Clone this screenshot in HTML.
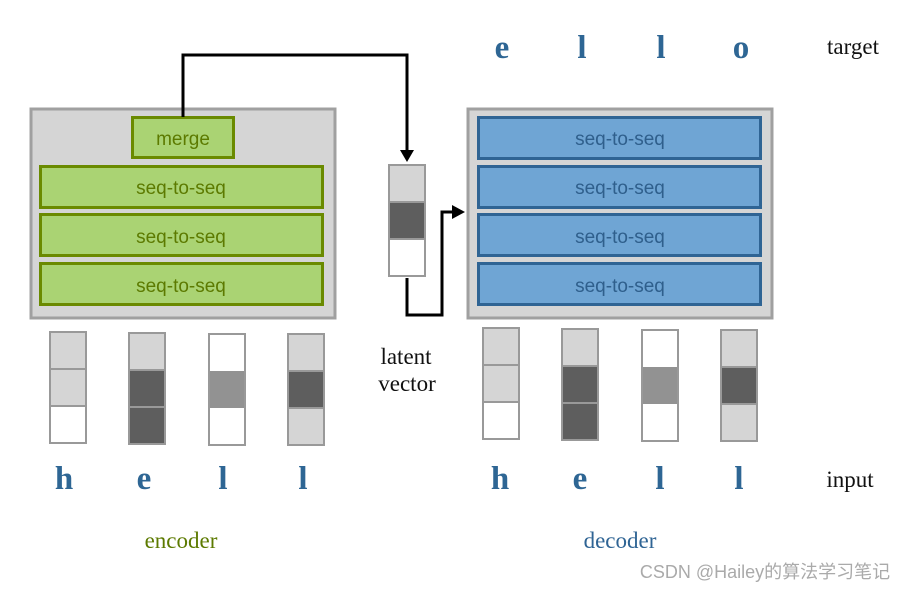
<!DOCTYPE html>
<html><head><meta charset="utf-8"><style>
html,body{margin:0;padding:0;background:#fff;}
svg{display:block}
.ser{font-family:"Liberation Serif",serif}
.big{font-family:"Liberation Serif",serif;font-weight:bold;font-size:33px;fill:#2e6694;text-anchor:middle}
.lab{font-family:"Liberation Sans",sans-serif;font-size:19px;text-anchor:middle}
</style></head><body>
<svg width="913" height="590" viewBox="0 0 913 590" xmlns="http://www.w3.org/2000/svg">
<!-- encoder -->
<rect x="31" y="109" width="304" height="209" fill="#d5d5d5" stroke="#a0a0a0" stroke-width="3"/>
<rect x="132.5" y="117.5" width="101" height="40" fill="#aad373" stroke="#6a8a00" stroke-width="3"/>
<text x="183" y="145" class="lab" fill="#5c7a00">merge</text>
<g fill="#aad373" stroke="#6a8a00" stroke-width="3">
<rect x="40.5" y="166.5" width="282" height="41"/>
<rect x="40.5" y="214.5" width="282" height="41"/>
<rect x="40.5" y="263.5" width="282" height="41"/>
</g>
<g class="lab" fill="#5c7a00">
<text x="181" y="194">seq-to-seq</text><text x="181" y="243">seq-to-seq</text><text x="181" y="292">seq-to-seq</text>
</g>
<!-- decoder -->
<rect x="468" y="109" width="304" height="209" fill="#d5d5d5" stroke="#a0a0a0" stroke-width="3"/>
<g fill="#6fa5d4" stroke="#2f6494" stroke-width="3">
<rect x="478.5" y="117.5" width="282" height="41"/>
<rect x="478.5" y="166.5" width="282" height="41"/>
<rect x="478.5" y="214.5" width="282" height="41"/>
<rect x="478.5" y="263.5" width="282" height="41"/>
</g>
<g class="lab" fill="#2f5f8c">
<text x="620" y="145">seq-to-seq</text><text x="620" y="194">seq-to-seq</text><text x="620" y="243">seq-to-seq</text><text x="620" y="292">seq-to-seq</text>
</g>
<!-- latent -->
<g stroke="#999" stroke-width="2">
<rect x="389" y="165" width="36" height="37" fill="#d5d5d5"/>
<rect x="389" y="202" width="36" height="37" fill="#5e5e5e"/>
<rect x="389" y="239" width="36" height="37" fill="#fff"/>
</g>
<!-- arrows -->
<polyline points="183,117 183,55 407,55 407,152" fill="none" stroke="#000" stroke-width="3"/>
<polygon points="400,150 414,150 407,162" fill="#000"/>
<polyline points="407,278 407,315 442,315 442,212 454,212" fill="none" stroke="#000" stroke-width="3"/>
<polygon points="452,205 452,219 465,212" fill="#000"/>
<!-- vectors -->
<g stroke="#999" stroke-width="2">
<rect x="50" y="332" width="36" height="37" fill="#d5d5d5"/><rect x="50" y="369" width="36" height="37" fill="#d5d5d5"/><rect x="50" y="406" width="36" height="37" fill="#fff"/>
<rect x="129" y="333" width="36" height="37" fill="#d5d5d5"/><rect x="129" y="370" width="36" height="37" fill="#5e5e5e"/><rect x="129" y="407" width="36" height="37" fill="#5e5e5e"/>
<rect x="209" y="334" width="36" height="111" fill="#fff"/><rect x="210" y="371" width="34" height="37" fill="#929292" stroke="none"/>
<rect x="288" y="334" width="36" height="37" fill="#d5d5d5"/><rect x="288" y="371" width="36" height="37" fill="#5e5e5e"/><rect x="288" y="408" width="36" height="37" fill="#d5d5d5"/>

<rect x="483" y="328" width="36" height="37" fill="#d5d5d5"/><rect x="483" y="365" width="36" height="37" fill="#d5d5d5"/><rect x="483" y="402" width="36" height="37" fill="#fff"/>
<rect x="562" y="329" width="36" height="37" fill="#d5d5d5"/><rect x="562" y="366" width="36" height="37" fill="#5e5e5e"/><rect x="562" y="403" width="36" height="37" fill="#5e5e5e"/>
<rect x="642" y="330" width="36" height="111" fill="#fff"/><rect x="643" y="367" width="34" height="37" fill="#929292" stroke="none"/>
<rect x="721" y="330" width="36" height="37" fill="#d5d5d5"/><rect x="721" y="367" width="36" height="37" fill="#5e5e5e"/><rect x="721" y="404" width="36" height="37" fill="#d5d5d5"/>
</g>
<!-- letters -->
<text class="big" x="64" y="489">h</text><text class="big" x="144" y="489">e</text><text class="big" x="223" y="489">l</text><text class="big" x="303" y="489">l</text>
<text class="big" x="500" y="489">h</text><text class="big" x="580" y="489">e</text><text class="big" x="660" y="489">l</text><text class="big" x="739" y="489">l</text>
<text class="big" x="502" y="58">e</text><text class="big" x="582" y="58">l</text><text class="big" x="661" y="58">l</text><text class="big" x="741" y="58">o</text>
<g class="ser" font-size="23" fill="#111" text-anchor="middle">
<text x="853" y="54">target</text>
<text x="850" y="487">input</text>
<text x="406" y="364">latent</text>
<text x="407" y="391">vector</text>
</g>
<text class="ser" x="181" y="548" font-size="23" fill="#5c7a00" text-anchor="middle">encoder</text>
<text class="ser" x="620" y="548" font-size="23" fill="#2f6494" text-anchor="middle">decoder</text>
<text x="765" y="578" font-family="'Liberation Sans','Noto Sans CJK SC',sans-serif" font-size="18" fill="#aaa" text-anchor="middle">CSDN @Hailey的算法学习笔记</text>
</svg>
</body></html>
